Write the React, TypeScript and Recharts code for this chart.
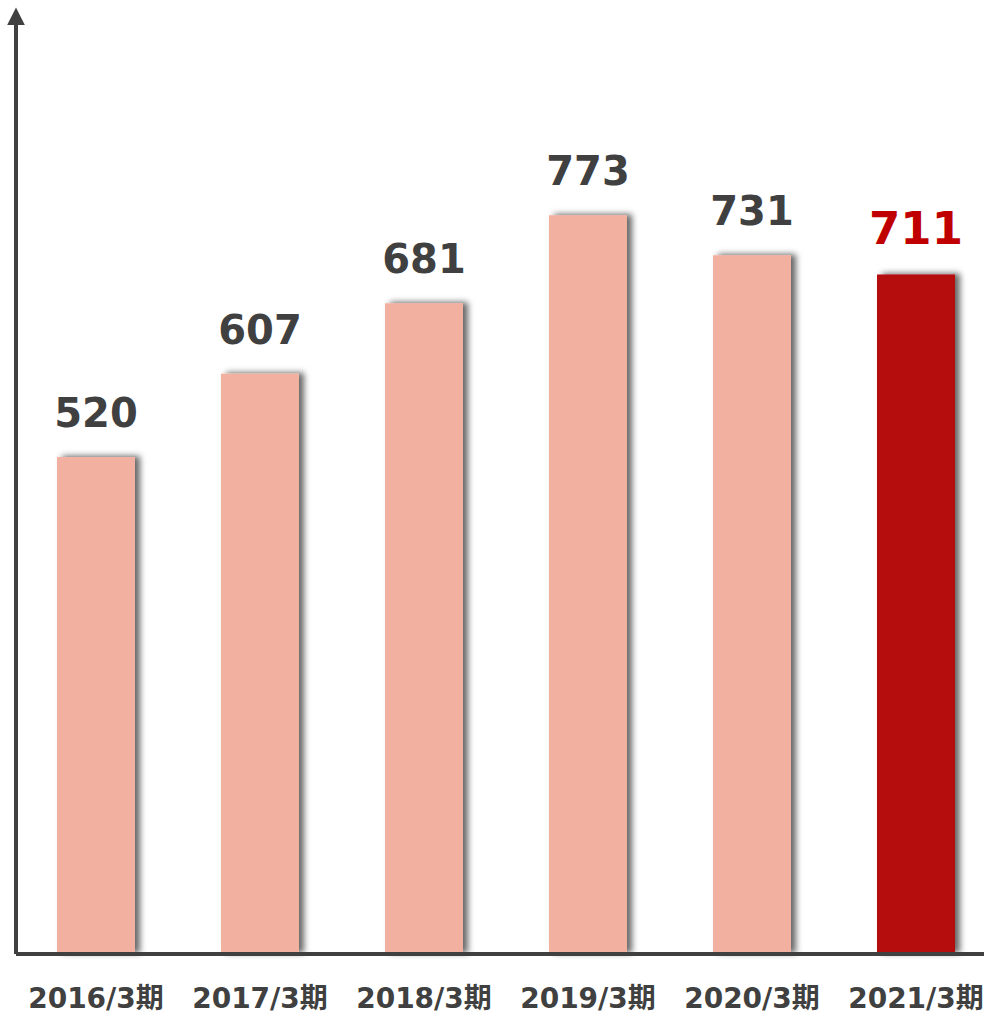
import React from "react";
import { BarChart, Bar, XAxis, YAxis, Cell, LabelList } from "recharts";

// fiscal periods and values
const PERIODS = ["2016/3期", "2017/3期", "2018/3期", "2019/3期", "2020/3期", "2021/3期"];
const VALUES = [520, 607, 681, 773, 731, 711];

const DATA = PERIODS.map((period, i) => ({ period, value: VALUES[i] }));

const TEXT = "#404040";
const LIGHT = "#F2B0A1";
const DARK = "#B50A10";
const FONT = "'DejaVu Sans', Verdana, 'Noto Sans CJK JP', sans-serif";

const PeriodTick = (props: any) => {
  const { x, y, payload } = props;
  return (
    <text
      x={x}
      y={y + 46}
      textAnchor="middle"
      fill={TEXT}
      fontFamily={FONT}
      fontWeight="bold"
      fontSize={28}
    >
      {payload.value}
    </text>
  );
};

const ValueLabel = (props: any) => {
  const { x, y, width, index, value } = props;
  const last = index === VALUES.length - 1;
  return (
    <text
      x={x + width / 2}
      y={y - 30}
      textAnchor="middle"
      fill={last ? "#C00000" : TEXT}
      fontFamily={FONT}
      fontWeight="bold"
      fontSize={last ? 45 : 40}
    >
      {value}
    </text>
  );
};

export default function App() {
  return (
    <div style={{ position: "absolute", left: 0, top: 0, width: 984, height: 1015, overflow: "hidden", background: "#fff" }}>
      <BarChart
        width={1000}
        height={1015}
        data={DATA}
        margin={{ top: 25, right: 0, bottom: 0, left: 15 }}
      >
        <defs>
          <filter id="barShadow" x="-20%" y="-5%" width="150%" height="110%">
            <feDropShadow dx={5} dy={-1} stdDeviation={3} floodColor="#000" floodOpacity={0.6} />
          </filter>
          <marker
            id="arrowHead"
            viewBox="0 0 10 10"
            refX={0}
            refY={5}
            markerWidth={4.4}
            markerHeight={4.4}
            orient="auto-start-reverse"
          >
            <path d="M0,0 L10,5 L0,10 z" fill={TEXT} />
          </marker>
        </defs>
        <XAxis
          dataKey="period"
          height={61}
          padding={{ left: -2, right: 2 }}
          tickLine={false}
          axisLine={{ stroke: TEXT, strokeWidth: 4 }}
          tick={<PeriodTick />}
          interval={0}
        />
        <YAxis
          width={1}
          domain={[0, 972]}
          tick={false}
          tickLine={false}
          axisLine={{ stroke: TEXT, strokeWidth: 4, markerStart: "url(#arrowHead)" } as any}
        />
        <Bar dataKey="value" barSize={78} isAnimationActive={false}>
          {DATA.map((d, i) => (
            <Cell
              key={d.period}
              fill={i === DATA.length - 1 ? DARK : LIGHT}
              filter="url(#barShadow)"
            />
          ))}
          <LabelList dataKey="value" content={<ValueLabel />} />
        </Bar>
      </BarChart>
    </div>
  );
}
